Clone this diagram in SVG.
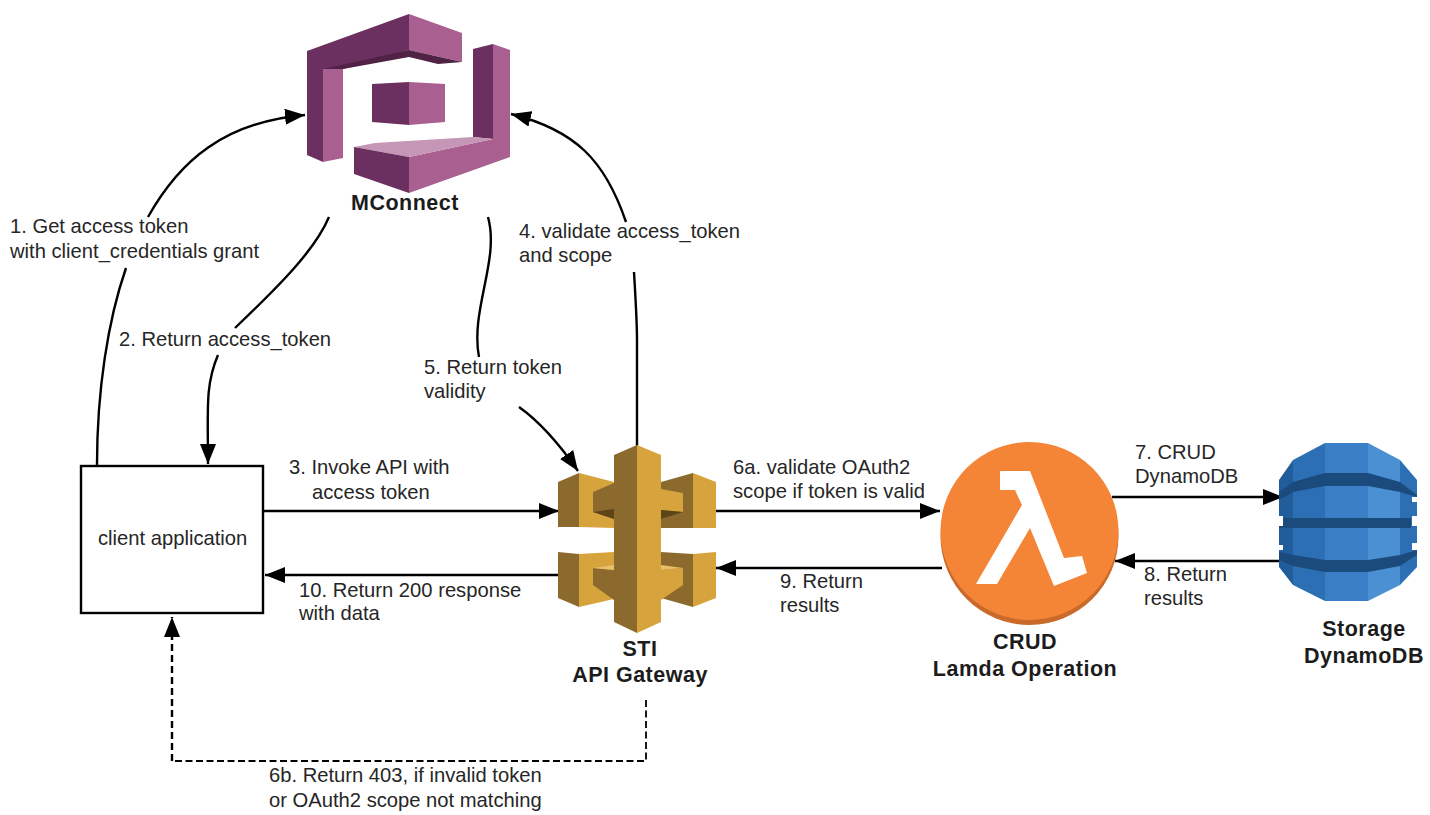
<svg xmlns="http://www.w3.org/2000/svg" width="1430" height="815" viewBox="0 0 1430 815">
<style>
text{font-family:"Liberation Sans",Arial,sans-serif;font-size:20.2px;fill:#262626}
.b{font-weight:bold;font-size:21.5px;text-anchor:middle;fill:#1c1c1c;letter-spacing:.5px}
.c{fill:none;stroke:#000;stroke-width:2.4}
.a{marker-end:url(#ah)}
.md{fill:#6c3060}.ml{fill:#a95f90}.mt{fill:#c596b6}.ms{fill:#4f2246}
.gd{fill:#8c6a2d}.gl{fill:#d6a33d}.gs{fill:#5e4518}.gt{fill:#e9bf6b}
.d1{fill:#215c9b}.d2{fill:#2d6fb5}.d3{fill:#3a7fc5}.d4{fill:#4b90d2}.dk{fill:#1b4a7d}
</style>
<defs>
<marker id="ah" markerUnits="userSpaceOnUse" markerWidth="22" markerHeight="16" refX="20" refY="8" orient="auto"><path d="M0 0L20 8L0 16Z" fill="#000"/></marker>
</defs>
<g id="connectors">
<path class="c" d="M97 465C97 390 108 320 126 268"/>
<path class="c a" d="M148 217C180 160 225 122 305 115"/>
<path class="c" d="M329 217C315 250 280 285 235 328"/>
<path class="c a" d="M218 355C205 385 208 410 208 464"/>
<path class="c a" d="M263 511H559"/>
<path class="c" d="M488 217C500 260 470 310 479 357"/>
<path class="c a" d="M519 407C540 422 560 445 578 471"/>
<path class="c" d="M637 447V340C637 320 635 290 634 272"/>
<path class="c a" d="M626 222C605 160 575 130 511 114"/>
<path class="c a" d="M716 511H940"/>
<path class="c a" d="M1112 497H1283"/>
<path class="c a" d="M1280 561H1115"/>
<path class="c a" d="M942 568H716"/>
<path class="c a" d="M558 575H265"/>
<path fill="none" stroke="#000" stroke-width="1.8" stroke-dasharray="7 3.5" d="M646 700V761H172"/>
<path fill="none" stroke="#000" stroke-width="2.4" stroke-dasharray="7 4" class="a" d="M172 761V617"/>
</g>
<g id="mconnect">
<path class="md" d="M307 51L409 14V50L343 69H323V162L307 155Z"/>
<path class="ml" d="M409 14L462 33V62L409 50Z"/>
<path class="ms" d="M409 50L462 62L438 64L409 57L343 69H323Z"/>
<path class="ml" d="M323 69H343V158L323 162Z"/>
<path class="md" d="M372 84L409 82V125L372 122Z"/>
<path class="ml" d="M409 82L445 84V122L409 125Z"/>
<path class="md" d="M473 49L493 44V139L473 137Z"/>
<path class="ml" d="M493 44L510 50V157L409 193V157L493 139Z"/>
<path class="mt" d="M354 147L375 143L473 137L493 139L409 157Z"/>
<path class="md" d="M354 147L409 157V193L354 174Z"/>
<text class="b" x="405" y="210">MConnect</text>
</g>
<g id="client-application">
<rect x="81" y="466" width="182" height="147" fill="#fff" stroke="#000" stroke-width="2.4"/>
<text x="98" y="545">client application</text>
</g>
<g id="api-gateway">
<path class="gd" d="M558 482L579 473V527L558 527Z"/>
<path class="gl" d="M579 473L614 482V528L579 527Z"/>
<path class="gd" d="M661 482L693 473V528L661 528Z"/>
<path class="gl" d="M693 473L716 482V528L693 528Z"/>
<path class="gd" d="M558 552L579 554V607L558 598Z"/>
<path class="gl" d="M579 554L614 552V599L579 607Z"/>
<path class="gd" d="M661 552L693 554V607L661 598Z"/>
<path class="gl" d="M693 554L716 552V598L693 607Z"/>
<path class="gd" d="M614 455L637 445V633L614 622V519L593 512V492L614 483Z"/>
<path class="gs" d="M593 512L614 509V519Z"/>
<path class="gd" d="M593 568L614 570V600L593 585Z"/>
<path class="gt" d="M593 568L614 565V570Z"/>
<path class="gl" d="M637 445L661 455V622L637 633Z"/>
<path class="gl" d="M661 489L683 493V512L661 510Z"/>
<path class="gs" d="M661 510L683 512L661 519Z"/>
<path class="gl" d="M661 570L683 568V585L661 600Z"/>
<path class="gt" d="M661 570L683 568L661 565Z"/>
<text class="b" x="640" y="656">STI</text>
<text class="b" x="640" y="682">API Gateway</text>
</g>
<g id="lambda">
<circle cx="1029.5" cy="536" r="89" fill="#c9692a"/>
<circle cx="1029.5" cy="531" r="89" fill="#f58536"/>
<path fill="#fff" d="M1000 471H1030L1064 558L1082 556L1087 573L1054 586L1030 528L997 584H976L1022 505L1015 490H1000Z"/>
<text class="b" x="1025" y="649">CRUD</text>
<text class="b" x="1025" y="676">Lamda Operation</text>
</g>
<g id="dynamodb">
<path class="d1" d="M1293 460L1279 480V567L1293 585Z"/>
<path class="d2" d="M1293 460L1325 443V601L1293 585Z"/>
<path class="d3" d="M1325 443H1368V601H1325Z"/>
<path class="d4" d="M1368 443L1400 460V585L1368 601Z"/>
<path class="d2" d="M1400 460L1417 480V567L1400 585Z"/>
<path class="dk" d="M1279 492L1293 482L1325 473H1368L1400 482L1417 495V497L1400 492L1368 486H1325L1293 492L1279 500Z"/>
<path class="dk" d="M1279 518H1411V528H1279Z"/>
<path class="dk" d="M1279 552L1293 555L1325 560H1368L1400 555L1417 550V555L1400 566L1368 572H1325L1293 566L1279 560Z"/>
<path fill="#fff" d="M1412 497H1417V502H1412ZM1412 516H1417V526H1412ZM1412 543H1417V550H1412ZM1279 516H1283V526H1279ZM1279 545H1283V550H1279Z"/>
<text class="b" x="1364" y="636">Storage</text>
<text class="b" x="1364" y="663">DynamoDB</text>
</g>
<g id="labels">
<text x="10" y="233">1. Get access token</text>
<text x="10" y="258">with client_credentials grant</text>
<text x="119" y="346">2. Return access_token</text>
<text x="519" y="238">4. validate access_token</text>
<text x="519" y="262">and scope</text>
<text x="424" y="374">5. Return token</text>
<text x="424" y="398">validity</text>
<text x="289" y="474">3. Invoke API with</text>
<text x="312" y="499">access token</text>
<text x="299" y="597">10. Return 200 response</text>
<text x="299" y="620">with data</text>
<text x="269" y="782">6b. Return 403, if invalid token</text>
<text x="269" y="807">or OAuth2 scope not matching</text>
<text x="733" y="474">6a. validate OAuth2</text>
<text x="733" y="498">scope if token is valid</text>
<text x="1135" y="459">7. CRUD</text>
<text x="1135" y="483">DynamoDB</text>
<text x="780" y="588">9. Return</text>
<text x="780" y="612">results</text>
<text x="1144" y="581">8. Return</text>
<text x="1144" y="605">results</text>
</g>
</svg>
